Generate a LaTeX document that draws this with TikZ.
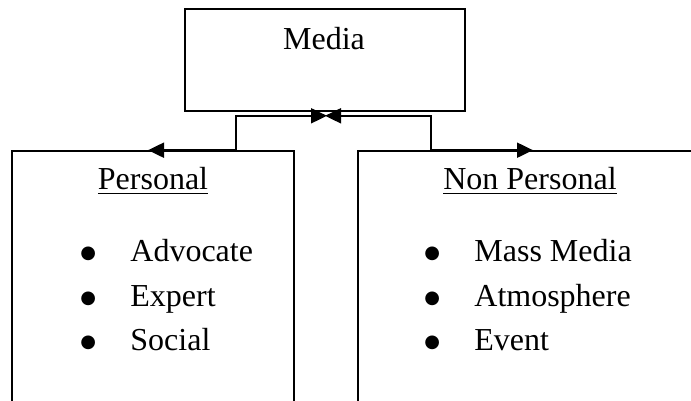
\documentclass[tikz,border=0pt]{standalone}
\usepackage{fontspec}
\setmainfont{Liberation Serif}
\newfontfamily\bulfont{DejaVu Sans}
\usetikzlibrary{arrows.meta}
\newcommand{\bulmark}{\makebox[23.5pt][l]{\hspace*{-1.5pt}\raisebox{1.6pt}{\bulfont\fontsize{9}{9}\selectfont ●}}}

\begin{document}
\begin{tikzpicture}[x=0.5pt,y=0.5pt,box/.style={draw,line width=0.8pt,inner sep=0pt},title/.style={font=\fontsize{16}{19}\selectfont,anchor=base,inner sep=0pt},item/.style={font=\fontsize{16}{19}\selectfont,anchor=base west,inner sep=0pt},link/.style={line width=1pt,{Triangle[length=8pt,width=7.5pt]}-{Triangle[length=8pt,width=7.5pt]}}]
\useasboundingbox (0,0) rectangle (691,401);
\clip (0,0) rectangle (691,401);
\node[box,minimum width=140pt,minimum height=51pt] (media) at (325,341) {};
\node[title] (mtext) at (324,351) {Media};
\node[box,minimum width=141pt,minimum height=145pt] (personal) at (153,105) {};
\node[box,minimum width=175pt,minimum height=145pt] (nonpers) at (533,105) {};
\draw[link] ([shift={(2,-4)}]media.south) -- ++(-91,0) |- ([shift={(-5,0)}]personal.north);
\draw[link] ([shift={(0,-4)}]media.south) -- ++(106,0) |- (nonpers.north);
\node[title] (ptitle) at (153,211) {\underline{Personal}};
\node[title] (ntitle) at (530,211) {\underline{Non Personal}};
\node[item] (p1) at (83,139) {\bulmark Advocate};
\node[item] (p2) at (83,94) {\bulmark Expert};
\node[item] (p3) at (83,50) {\bulmark Social};
\node[item] (n1) at (427,139) {\bulmark Mass Media};
\node[item] (n2) at (427,94) {\bulmark Atmosphere};
\node[item] (n3) at (427,50) {\bulmark Event};
\end{tikzpicture}
\end{document}
